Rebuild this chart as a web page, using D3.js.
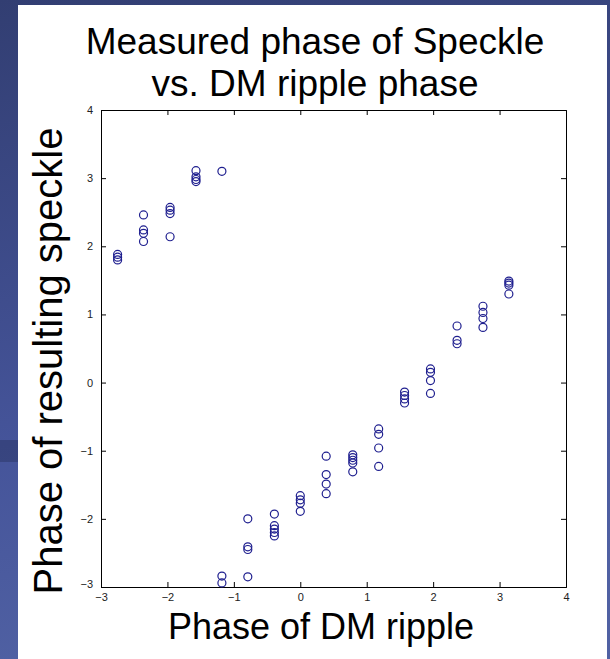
<!DOCTYPE html>
<html>
<head>
<meta charset="utf-8">
<script src="https://cdn.jsdelivr.net/npm/d3@7"></script>
<style>
  html, body { margin: 0; padding: 0; background: #3f4d88; }
  svg { display: block; }
</style>
</head>
<body>
<div class="board"></div>
<script>
// phase of DM ripple (x) for each column of measurements
var ripplePhase = [-2.75, -2.36, -1.96, -1.57, -1.18, -0.79, -0.39, 0, 0.39, 0.79, 1.18, 1.57, 1.96, 2.36, 2.75, 3.14];

// measured speckle phase (y) at each ripple phase, same order
var specklePhase = [
  [1.88, 1.84, 1.80],
  [2.46, 2.24, 2.19, 2.07],
  [2.57, 2.53, 2.48, 2.14],
  [3.11, 3.02, 2.98, 2.95],
  [3.10, -2.84, -2.94],
  [-2.00, -2.41, -2.45, -2.85],
  [-1.93, -2.10, -2.15, -2.20, -2.25],
  [-1.66, -1.72, -1.77, -1.89],
  [-1.08, -1.35, -1.49, -1.63],
  [-1.06, -1.10, -1.14, -1.18, -1.31],
  [-0.68, -0.76, -0.96, -1.23],
  [-0.14, -0.19, -0.24, -0.30],
  [0.20, 0.15, 0.03, -0.16],
  [0.83, 0.62, 0.57],
  [1.12, 1.03, 0.94, 0.81],
  [1.49, 1.46, 1.43, 1.30]
];

var xTicks = [-3, -2, -1, 0, 1, 2, 3, 4];
var yTicks = [-3, -2, -1, 0, 1, 2, 3, 4];

var titleLines = ['Measured phase of Speckle', 'vs. DM ripple phase'];
var xLabel = 'Phase of DM ripple';
var yLabel = 'Phase of resulting speckle';

var opts = {
  width: 610,
  height: 659,
  left: 101,
  right: 566,
  top: 110,
  bottom: 587,
  tick: 5
};

var points = [];
ripplePhase.forEach(function(px, i) {
  specklePhase[i].forEach(function(py) {
    points.push({x: px, y: py});
  });
});

var svg = d3.select('.board').append('svg')
  .attr('width', opts.width)
  .attr('height', opts.height);

// slide background
var defs = svg.append('defs');
var grad = defs.append('linearGradient').attr('id', 'bg')
  .attr('x1', 0).attr('y1', 0).attr('x2', 0.2).attr('y2', 1);
grad.append('stop').attr('offset', 0).attr('stop-color', '#323e72');
grad.append('stop').attr('offset', 0.65).attr('stop-color', '#45549a');
grad.append('stop').attr('offset', 1).attr('stop-color', '#5061a3');

svg.append('rect').attr('width', opts.width).attr('height', opts.height).attr('fill', 'url(#bg)');
svg.append('rect').attr('x', 0).attr('y', 440).attr('width', 20).attr('height', 22)
  .attr('fill', '#2f3a6e').attr('opacity', 0.6);

// white slide panel
svg.append('rect')
  .attr('x', 18).attr('y', 5)
  .attr('width', 589).attr('height', 654)
  .attr('fill', '#ffffff');

var x = d3.scaleLinear().domain([-3, 4]).range([opts.left, opts.right]);
var y = d3.scaleLinear().domain([-3, 4]).range([opts.bottom, opts.top]);

var font = 'Liberation Sans, Arial, Helvetica, sans-serif';

// title
svg.append('g').selectAll('text').data(titleLines).enter().append('text')
  .attr('x', 315)
  .attr('y', function(d, i) { return 54 + i * 42; })
  .attr('text-anchor', 'middle')
  .attr('font-family', font)
  .attr('font-size', 37)
  .attr('fill', '#000')
  .text(function(d) { return d; });

// axes, MATLAB-style box with inward ticks
var bottomAxis = d3.axisBottom(x).tickValues(xTicks).tickSize(-opts.tick).tickPadding(6).tickFormat(d3.format('d'));
var leftAxis = d3.axisLeft(y).tickValues(yTicks).tickSize(-opts.tick).tickPadding(8).tickFormat(d3.format('d'));
var topAxis = d3.axisTop(x).tickValues(xTicks.slice(1, -1)).tickSize(-opts.tick).tickFormat('');
var rightAxis = d3.axisRight(y).tickValues(yTicks.slice(1, -1)).tickSize(-opts.tick).tickFormat('');

svg.append('g').attr('transform', 'translate(0,' + opts.bottom + ')').call(bottomAxis);
var gy = svg.append('g').attr('transform', 'translate(' + opts.left + ',0)').call(leftAxis);
svg.append('g').attr('transform', 'translate(0,' + opts.top + ')').call(topAxis);
svg.append('g').attr('transform', 'translate(' + opts.right + ',0)').call(rightAxis);

svg.selectAll('.domain').attr('stroke', '#000').attr('stroke-width', 1);
svg.selectAll('.tick line').attr('stroke', '#000');
svg.selectAll('.tick text').attr('font-family', font).attr('font-size', 11).attr('fill', '#222');

// MATLAB nudges the lowest y label up
gy.selectAll('.tick text').filter(function(d) { return d === -3; }).attr('dy', '0.05em');

// data
svg.append('g').selectAll('circle').data(points).enter().append('circle')
  .attr('cx', function(d) { return x(d.x); })
  .attr('cy', function(d) { return y(d.y); })
  .attr('r', 4)
  .attr('fill', 'none')
  .attr('stroke', '#1f1f8f')
  .attr('stroke-width', 1.2);

// axis labels
svg.append('text')
  .attr('x', 321).attr('y', 639)
  .attr('text-anchor', 'middle')
  .attr('font-family', font)
  .attr('font-size', 36)
  .attr('fill', '#000')
  .text(xLabel);

svg.append('text')
  .attr('transform', 'translate(62,361) rotate(-90)')
  .attr('text-anchor', 'middle')
  .attr('font-family', font)
  .attr('font-size', 40)
  .attr('fill', '#000')
  .text(yLabel);
</script>
</body>
</html>
